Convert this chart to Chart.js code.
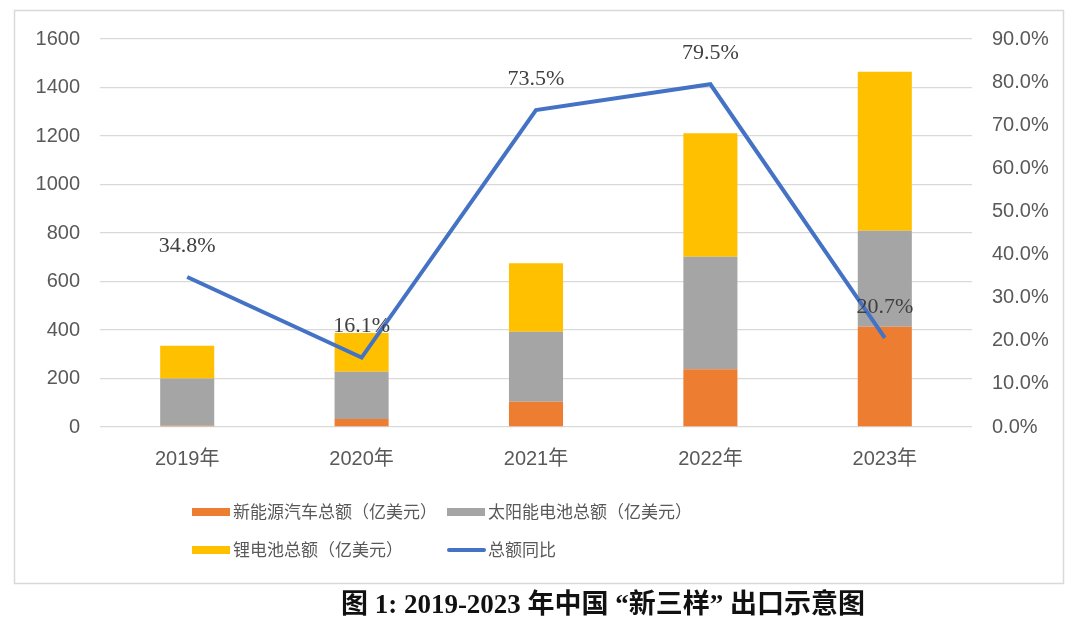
<!DOCTYPE html>
<html>
<head>
<meta charset="utf-8">
<script src="https://cdn.jsdelivr.net/npm/chart.js@4.4.1/dist/chart.umd.min.js"></script>
<style>
html,body{margin:0;padding:0;background:#fff;}
#wrap{width:1080px;height:635px;position:relative;}
canvas{display:block;}
</style>
</head>
<body>
<div id="wrap"><canvas id="c" width="1080" height="635"></canvas></div>
<script>
const categories = ['2019年', '2020年', '2021年', '2022年', '2023年'];
const nevValues = [5, 33, 104, 238, 413];
const solarValues = [195, 195, 289, 464, 396];
const lithiumValues = [135, 160, 282, 509, 656];
const yoyValues = [34.8, 16.1, 73.5, 79.5, 20.7];
const seriesNames = ['新能源汽车总额（亿美元）', '太阳能电池总额（亿美元）', '锂电池总额（亿美元）', '总额同比'];
const leftTicks = [0, 200, 400, 600, 800, 1000, 1200, 1400, 1600];
const rightTicks = [0, 10, 20, 30, 40, 50, 60, 70, 80, 90];
const chartTitle = '图 1: 2019-2023 年中国 “新三样” 出口示意图';

const SANS = '"Liberation Sans", "Noto Sans CJK SC", sans-serif';
const TICK_COLOR = '#595959';

const decorPlugin = {
  id: 'decor',
  beforeDraw(chart) {
    const ctx = chart.ctx;
    ctx.save();
    ctx.fillStyle = '#fff';
    ctx.fillRect(0, 0, chart.width, chart.height);
    ctx.strokeStyle = '#d9d9d9';
    ctx.lineWidth = 1.5;
    ctx.strokeRect(14.5, 10.5, 1049, 573);
    ctx.restore();
  },
  afterDraw(chart) {
    const ctx = chart.ctx;
    ctx.save();
    const meta = chart.getDatasetMeta(3);
    ctx.font = '22px "Liberation Serif", "Times New Roman", serif';
    ctx.fillStyle = '#404040';
    ctx.textAlign = 'center';
    ctx.textBaseline = 'middle';
    meta.data.forEach((pt, i) => {
      ctx.fillText(yoyValues[i].toFixed(1) + '%', pt.x, pt.y - 31);
    });
    const pos = [[192, 512], [447, 512], [192, 550], [447, 550]];
    ctx.font = '17px ' + SANS;
    ctx.textAlign = 'left';
    chart.data.datasets.forEach((ds, i) => {
      const [x, y] = pos[i];
      if (ds.type === 'line') {
        ctx.strokeStyle = ds.borderColor;
        ctx.lineWidth = 4;
        ctx.lineCap = 'round';
        ctx.beginPath();
        ctx.moveTo(x + 2, y);
        ctx.lineTo(x + 37, y);
        ctx.stroke();
      } else {
        ctx.fillStyle = ds.backgroundColor;
        ctx.fillRect(x, y - 4, 38, 8);
      }
      ctx.fillStyle = TICK_COLOR;
      ctx.fillText(ds.label, x + 41, y + 1);
    });
    ctx.font = 'bold 27px "Liberation Serif", "Noto Sans CJK SC", serif';
    ctx.fillStyle = '#111';
    ctx.textAlign = 'center';
    ctx.fillText(chartTitle, 603, 606);
    ctx.restore();
  }
};

new Chart(document.getElementById('c'), {
  data: {
    labels: categories,
    datasets: [
      { type: 'bar', label: seriesNames[0], data: nevValues, backgroundColor: '#ED7D31', yAxisID: 'y', order: 2, stack: 's' },
      { type: 'bar', label: seriesNames[1], data: solarValues, backgroundColor: '#A5A5A5', yAxisID: 'y', order: 2, stack: 's' },
      { type: 'bar', label: seriesNames[2], data: lithiumValues, backgroundColor: '#FFC000', yAxisID: 'y', order: 2, stack: 's' },
      { type: 'line', label: seriesNames[3], data: yoyValues, borderColor: '#4472C4', backgroundColor: '#4472C4', borderWidth: 4, pointRadius: 0, yAxisID: 'y1', order: 0, tension: 0 }
    ]
  },
  options: {
    responsive: false,
    animation: false,
    layout: { padding: { left: 20, right: 0, top: 39, bottom: 0 } },
    datasets: { bar: { barPercentage: 0.31, categoryPercentage: 1 } },
    plugins: { legend: { display: false }, tooltip: { enabled: false }, title: { display: false } },
    scales: {
      x: {
        stacked: true,
        grid: { display: false, drawTicks: false },
        border: { display: false },
        ticks: { color: TICK_COLOR, font: { family: SANS, size: 20 }, padding: 20 },
        afterFit(s) { s.height = 208; }
      },
      y: {
        stacked: true,
        position: 'left',
        min: 0, max: 1600,
        afterBuildTicks(s) { s.ticks = leftTicks.map(v => ({ value: v })); },
        grid: { color: '#d9d9d9', lineWidth: 1.3, drawTicks: false },
        border: { display: false },
        ticks: { color: TICK_COLOR, font: { family: SANS, size: 20 }, padding: 20, callback: v => String(v) },
        afterFit(s) { s.width = 80; }
      },
      y1: {
        position: 'right',
        min: 0, max: 90,
        afterBuildTicks(s) { s.ticks = rightTicks.map(v => ({ value: v })); },
        grid: { display: false, drawTicks: false },
        border: { display: false },
        ticks: { color: TICK_COLOR, font: { family: SANS, size: 20 }, padding: 20, callback: v => v.toFixed(1) + '%' },
        afterFit(s) { s.width = 108; }
      }
    }
  },
  plugins: [decorPlugin]
});
</script>
</body>
</html>
